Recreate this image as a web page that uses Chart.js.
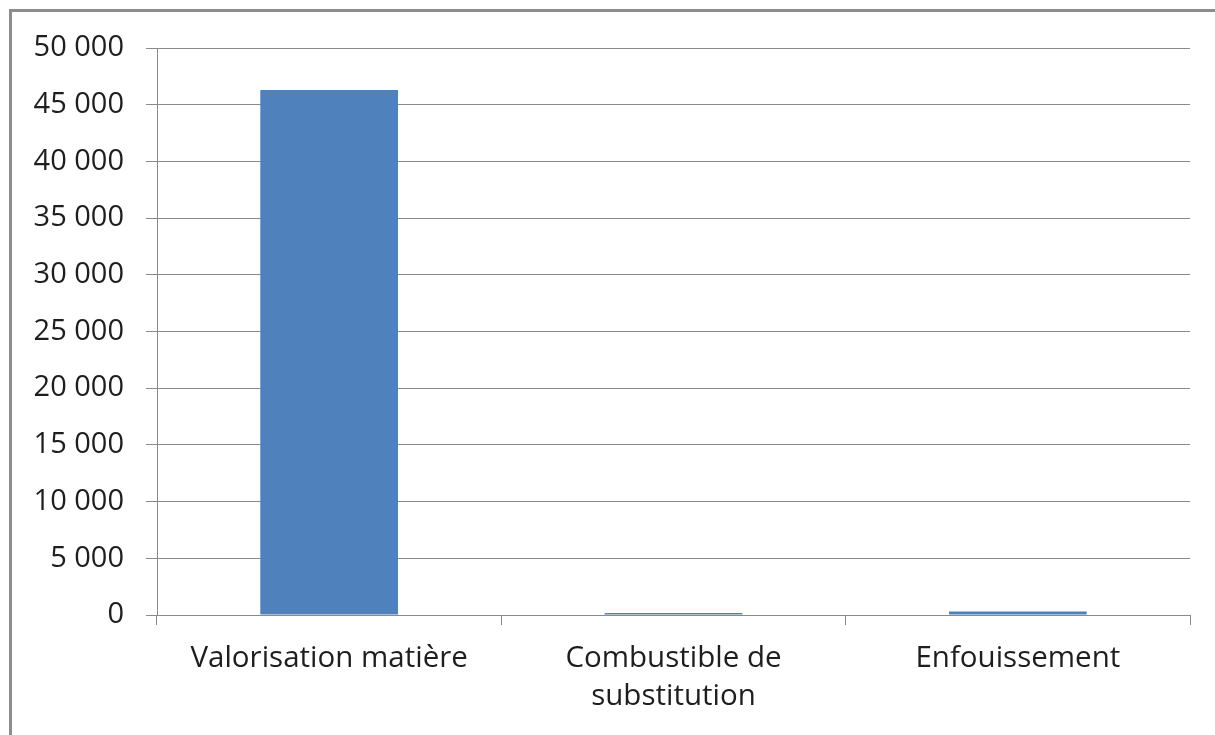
<!DOCTYPE html>
<html>
<head>
<meta charset="utf-8">
<script src="https://cdn.jsdelivr.net/npm/chart.js@4.4.1/dist/chart.umd.min.js"></script>
<style>
  html, body { margin: 0; padding: 0; background: #fff; overflow: hidden; }
  #frame {
    position: absolute; left: 9px; top: 9px;
    width: 1400px; height: 900px;
    border-top: 3px solid #8c8c8c; border-left: 3px solid #8c8c8c;
  }
  #wrap { position: absolute; left: 0; top: 0; width: 1215px; height: 735px; }
</style>
</head>
<body>
<div id="frame"></div>
<div id="wrap"><canvas id="chart"></canvas></div>
<script>
// Catégories (axe X)
const categories = [
  'Valorisation matière',
  ['Combustible de', 'substitution'],
  'Enfouissement'
];

// Valeurs (tonnes)
const values = [46300, 170, 300];

// Graduations axe Y
const yMin = 0;
const yMax = 50000;
const yStep = 5000;

const gridColor = '#8a8a8a';
const textColor = '#1e1e1e';

// 50000 -> "50 000"
const fmt = v => String(v).replace(/\B(?=(\d{3})+(?!\d))/g, ' ');

new Chart(document.getElementById('chart'), {
  type: 'bar',
  data: {
    labels: categories,
    datasets: [{
      data: values,
      backgroundColor: '#4f81bd',
      borderWidth: 0,
      categoryPercentage: 1,
      barPercentage: 0.4
    }]
  },
  options: {
    responsive: true,
    maintainAspectRatio: false,
    animation: false,
    layout: { padding: { top: 48, right: 25, left: 0, bottom: 0 } },
    plugins: {
      legend: { display: false },
      tooltip: { enabled: false }
    },
    scales: {
      x: {
        grid: {
          offset: true,
          drawOnChartArea: false,
          drawTicks: true,
          tickLength: 10,
          color: gridColor
        },
        border: { color: gridColor, width: 1 },
        ticks: {
          color: textColor,
          font: { family: 'Open Sans', size: 29.5, lineHeight: 1.29 },
          padding: 15,
          maxRotation: 0,
          autoSkip: false
        },
        afterFit: s => { s.height = 120; }
      },
      y: {
        min: yMin,
        max: yMax,
        grid: {
          color: gridColor,
          tickLength: 11,
          drawTicks: true
        },
        border: { color: gridColor, width: 1 },
        ticks: {
          stepSize: yStep,
          color: textColor,
          font: { family: 'Open Sans', size: 29 },
          padding: 22,
          callback: v => fmt(v)
        },
        afterFit: s => { s.width = 157; }
      }
    }
  }
});
</script>
</body>
</html>
